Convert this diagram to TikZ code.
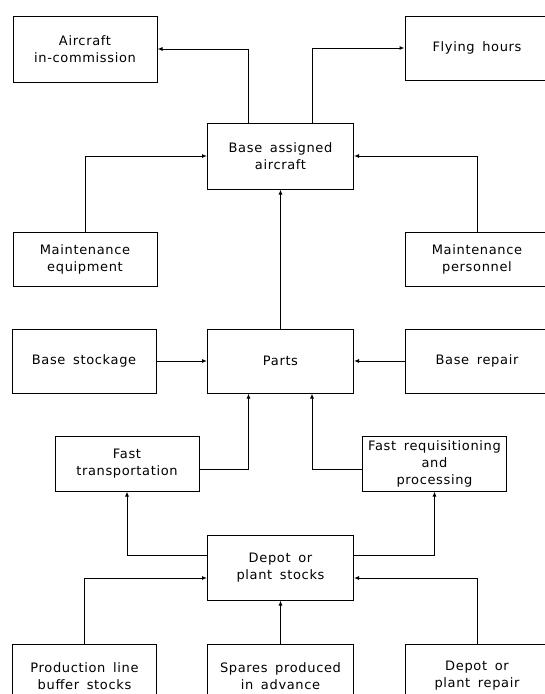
\documentclass[tikz,border=0pt]{standalone}
\usepackage{fontspec}
\setmainfont[LetterSpace=5,WordSpace=1.6]{DejaVu Sans}
\usetikzlibrary{arrows.meta}

\begin{document}
\begin{tikzpicture}[
	>={Latex[length=5pt,width=4pt]},
	line width=1pt,
	x=1pt,y=-1pt,
	font=\fontsize{13}{17}\selectfont,
	blk/.style={draw, align=center, minimum width=144pt, minimum height=64pt, inner sep=2pt}
	]
\useasboundingbox (0,0) rectangle (545,694);
\clip (0,0) rectangle (545,694);

% boxes
			\node[blk, minimum height=66pt] (aircraft_incomm)   at (85, 49) {Aircraft\\in-commission};
			\node[blk] (flying_hours)   at (477, 48) {Flying hours};
			\node[blk, minimum width=146pt, minimum height=66pt] (base_assigned)   at (280.5, 156) {Base assigned\\aircraft};
			\node[blk, minimum height=54pt] (maint_equip)   at (85, 259) {Maintenance\\equipment};
			\node[blk, minimum height=54pt] (maint_pers)   at (477, 259) {Maintenance\\personnel};
			\node[blk] (base_stockage)   at (84, 361) {Base stockage};
			\node[blk, minimum width=146pt] (parts)   at (280.5, 361) {Parts};
			\node[blk] (base_repair)   at (477, 361) {Base repair};
			\node[blk, minimum height=55pt] (fast_transp)   at (127, 463.5) {Fast\\transportation};
			\node[blk, minimum height=55pt] (fast_requis)   at (434.5, 463.5) {Fast requisitioning\\and\\processing};
			\node[blk, minimum width=146pt, minimum height=65pt] (depot_stocks)   at (280.5, 567.5) {Depot or\\plant stocks};
			\node[blk] (prod_buffer)   at (84.5, 676) {Production line\\buffer stocks};
			\node[blk, minimum width=146pt] (spares_adv)   at (280.5, 676) {Spares produced\\in advance};
			\node[blk] (depot_repair)   at (477, 676) {Depot or\\plant repair};

% connectors
			\draw[->] ([xshift=-32pt]base_assigned.north) |- (aircraft_incomm.east);
			\draw[->] ([xshift=31.5pt]base_assigned.north) |- (flying_hours.west);
			\draw[->] (maint_equip.north) |- (base_assigned.west);
			\draw[->] (maint_pers.north) |- (base_assigned.east);
			\draw[->] (parts.north) -- (base_assigned.south);
			\draw[->] (base_stockage.east) -- (parts.west);
			\draw[->] (base_repair.west) -- (parts.east);
			\draw[->] ([yshift=-5.5pt]fast_transp.east) -| ([xshift=-32pt]parts.south);
			\draw[->] ([yshift=-5.5pt]fast_requis.west) -| ([xshift=31.5pt]parts.south);
			\draw[->] ([yshift=12pt]depot_stocks.west) -| (fast_transp.south);
			\draw[->] ([yshift=12pt]depot_stocks.east) -| (fast_requis.south);
			\draw[->] (prod_buffer.north) |- ([yshift=-10.5pt]depot_stocks.west);
			\draw[->] (spares_adv.north) -- (depot_stocks.south);
			\draw[->] (depot_repair.north) |- ([yshift=-10.5pt]depot_stocks.east);

\end{tikzpicture}
\end{document}
